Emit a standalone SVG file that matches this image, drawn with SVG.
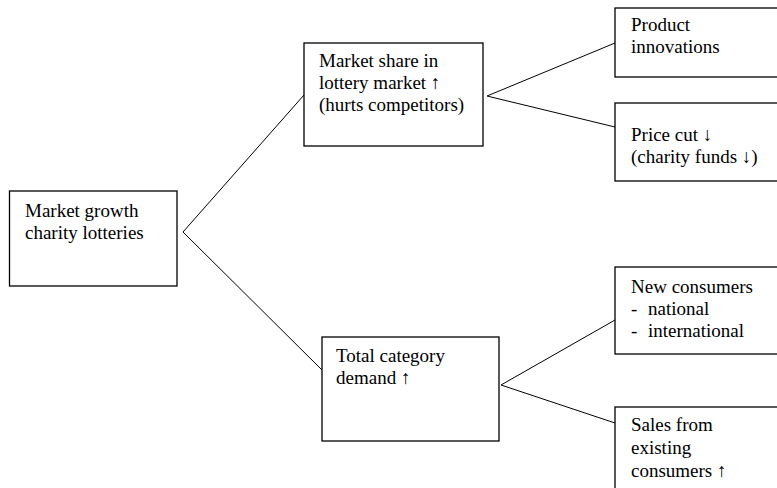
<svg xmlns="http://www.w3.org/2000/svg" width="777" height="488" viewBox="0 0 777 488">
<style>
.box{fill:#fff;stroke:#000;stroke-width:1.3}
.t{font-family:"Liberation Serif","Times New Roman",serif;font-size:19px;fill:#000}
.c{stroke:#000;stroke-width:1;fill:none}
</style>
<rect width="777" height="488" fill="#fff"/>
<g id="connectors">
<polyline class="c" points="304,95 183,232 322,370"/>
<polyline class="c" points="615,43 487,96 615,127"/>
<polyline class="c" points="615,320 501,385 615,423"/>
</g>
<g id="n-growth">
<rect class="box" x="9.5" y="191" width="167.5" height="95"/>
<text class="t" x="25" y="217">Market growth</text>
<text class="t" x="25" y="239">charity lotteries</text>
</g>
<g id="n-share">
<rect class="box" x="304" y="43" width="179" height="103"/>
<text class="t" x="319" y="67">Market share in</text>
<text class="t" x="319" y="89">lottery market ↑</text>
<text class="t" x="319" y="111">(hurts competitors)</text>
</g>
<g id="n-demand">
<rect class="box" x="322" y="337" width="177" height="104"/>
<text class="t" x="336" y="362">Total category</text>
<text class="t" x="336" y="384">demand ↑</text>
</g>
<g id="n-product">
<rect class="box" x="615" y="8" width="170" height="69"/>
<text class="t" x="631" y="31">Product</text>
<text class="t" x="631" y="53">innovations</text>
</g>
<g id="n-price">
<rect class="box" x="615" y="103" width="170" height="78"/>
<text class="t" x="631" y="141">Price cut ↓</text>
<text class="t" x="631" y="163">(charity funds ↓)</text>
</g>
<g id="n-new">
<rect class="box" x="615" y="267" width="170" height="87"/>
<text class="t" x="631" y="293">New consumers</text>
<text class="t" x="631" y="315">-</text>
<text class="t" x="648" y="315">national</text>
<text class="t" x="631" y="337">-</text>
<text class="t" x="648" y="337">international</text>
</g>
<g id="n-sales">
<rect class="box" x="615" y="407" width="170" height="95"/>
<text class="t" x="631" y="431">Sales from</text>
<text class="t" x="631" y="454">existing</text>
<text class="t" x="631" y="477">consumers ↑</text>
</g>
</svg>
